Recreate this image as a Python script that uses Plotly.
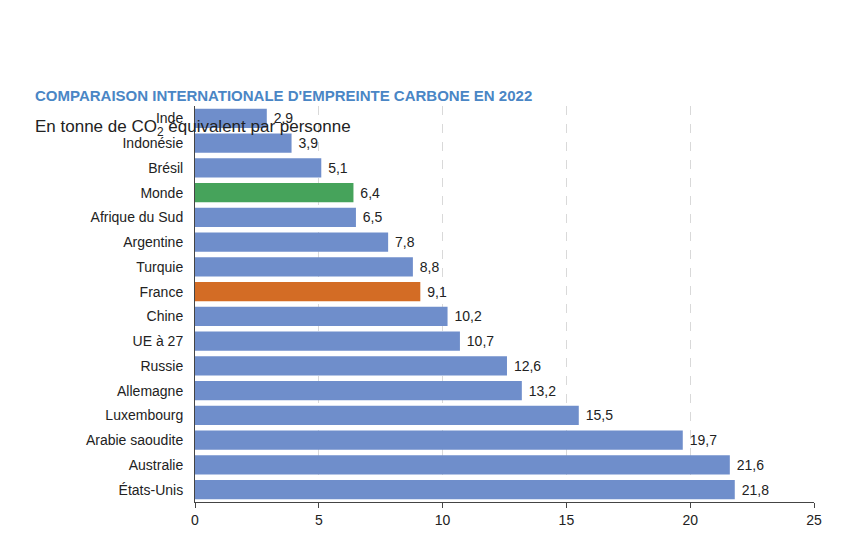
import plotly.graph_objects as go

pays = ["Inde", "Indonésie", "Brésil", "Monde", "Afrique du Sud", "Argentine", "Turquie",
        "France", "Chine", "UE à 27", "Russie", "Allemagne", "Luxembourg",
        "Arabie saoudite", "Australie", "États-Unis"]
valeurs = [2.9, 3.9, 5.1, 6.4, 6.5, 7.8, 8.8, 9.1, 10.2, 10.7, 12.6, 13.2, 15.5, 19.7, 21.6, 21.8]

couleurs = []
for p in pays:
    if p == "Monde":
        couleurs.append("#46a35b")
    elif p == "France":
        couleurs.append("#d36c25")
    else:
        couleurs.append("#6f8ecb")

fig = go.Figure(go.Bar(
    y=pays, x=valeurs, orientation="h",
    marker=dict(color=couleurs, line=dict(width=0)),
    text=[" " + f"{v:.1f}".replace(".", ",") for v in valeurs],
    textposition="outside", cliponaxis=False,
    textfont=dict(size=14, color="#222"),
    width=0.78,
))

fig.update_layout(
    width=842, height=538,
    margin=dict(l=187, r=36, t=98, b=44),
    plot_bgcolor="white", paper_bgcolor="white",
    font=dict(family="Liberation Sans, Arial", size=14, color="#222"),
    showlegend=False,
    xaxis=dict(range=[0, 25], tickvals=[0, 5, 10, 15, 20, 25], showgrid=True,
               gridcolor="#d9d9d9", griddash="dash", zeroline=False,
               showline=True, linecolor="#444", ticks="outside", ticklen=5,
               tickcolor="#444", tickfont=dict(size=14), automargin=False),
    yaxis=dict(autorange="reversed", ticks="", ticklabelstandoff=8, automargin=False,
               showline=True, linecolor="#444", tickfont=dict(size=14)),
    annotations=[
        dict(text="<b>COMPARAISON INTERNATIONALE D'EMPREINTE CARBONE EN 2022</b>",
             xref="paper", yref="paper", x=-162/619, y=(440 - 33) / 396, xanchor="left", yanchor="middle",
             showarrow=False, font=dict(size=15, color="#4a86c5")),
        dict(text="En tonne de CO<sub>2</sub> équivalent par personne",
             xref="paper", yref="paper", x=-162/619, y=(440 - 66) / 396, xanchor="left", yanchor="middle",
             showarrow=False, font=dict(size=17, color="#222")),
    ],
)

fig.write_html("out.html")
